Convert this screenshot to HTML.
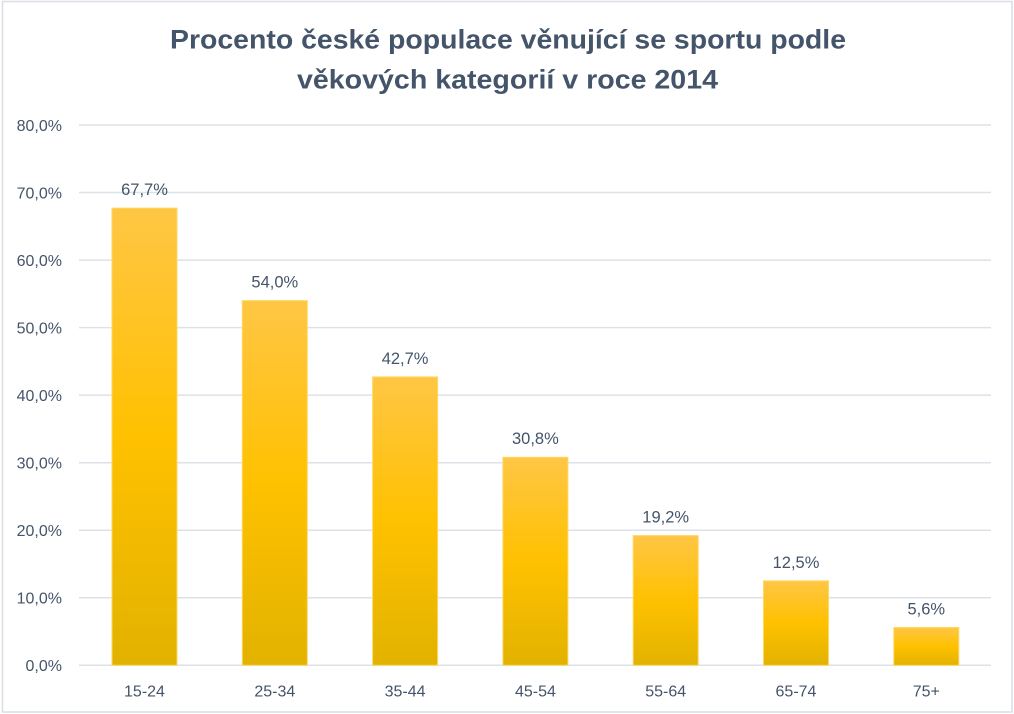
<!DOCTYPE html>
<html><head><meta charset="utf-8"><style>
html,body{margin:0;padding:0;background:#fff;}
svg{display:block;}
text{font-family:"Liberation Sans",sans-serif;fill:#44546a;}
</style></head><body>
<svg width="1014" height="714" viewBox="0 0 1014 714" xmlns="http://www.w3.org/2000/svg">
<defs>
<linearGradient id="g" x1="0" y1="0" x2="0" y2="1">
<stop offset="0" stop-color="#ffc645"/>
<stop offset="0.5" stop-color="#ffc100"/>
<stop offset="1" stop-color="#e2b200"/>
</linearGradient>
</defs>
<rect x="2.5" y="1.5" width="1009.5" height="710.5" fill="#fff" stroke="#d9dee6" stroke-width="1.5"/>
<text x="508" y="48.5" font-size="26.5" font-weight="bold" text-anchor="middle" textLength="676" lengthAdjust="spacingAndGlyphs">Procento české populace věnující se sportu podle</text>
<text x="507.5" y="88.5" font-size="26.5" font-weight="bold" text-anchor="middle" textLength="421" lengthAdjust="spacingAndGlyphs">věkových kategorií v roce 2014</text>
<g stroke="#dde1e8" stroke-width="1.5">
<line x1="79" x2="991" y1="125" y2="125"/>
<line x1="79" x2="991" y1="192.5" y2="192.5"/>
<line x1="79" x2="991" y1="260.1" y2="260.1"/>
<line x1="79" x2="991" y1="327.6" y2="327.6"/>
<line x1="79" x2="991" y1="395.1" y2="395.1"/>
<line x1="79" x2="991" y1="462.7" y2="462.7"/>
<line x1="79" x2="991" y1="530.2" y2="530.2"/>
<line x1="79" x2="991" y1="597.8" y2="597.8"/>
<line x1="79" x2="991" y1="665.3" y2="665.3"/>
</g>
<g font-size="16" text-anchor="end">
<text x="62" y="131">80,0%</text>
<text x="62" y="198.5">70,0%</text>
<text x="62" y="266">60,0%</text>
<text x="62" y="333.5">50,0%</text>
<text x="62" y="401">40,0%</text>
<text x="62" y="468.5">30,0%</text>
<text x="62" y="536">20,0%</text>
<text x="62" y="603.5">10,0%</text>
<text x="62" y="671">0,0%</text>
</g>
<g fill="url(#g)" stroke="#ffd765" stroke-width="1">
<rect x="112" y="208.1" width="65" height="457.2"/>
<rect x="242.3" y="300.6" width="65" height="364.7"/>
<rect x="372.6" y="376.9" width="65" height="288.4"/>
<rect x="502.9" y="457.3" width="65" height="208"/>
<rect x="633.2" y="535.6" width="65" height="129.7"/>
<rect x="763.5" y="580.9" width="65" height="84.4"/>
<rect x="893.8" y="627.5" width="65" height="37.8"/>
</g>
<g font-size="16.5" text-anchor="middle">
<text x="144.5" y="195">67,7%</text>
<text x="274.8" y="287.5">54,0%</text>
<text x="405.1" y="363.8">42,7%</text>
<text x="535.4" y="444.2">30,8%</text>
<text x="665.7" y="522.5">19,2%</text>
<text x="796" y="567.8">12,5%</text>
<text x="926.3" y="614.4">5,6%</text>
</g>
<g font-size="16" text-anchor="middle">
<text x="144.5" y="696.5">15-24</text>
<text x="274.8" y="696.5">25-34</text>
<text x="405.1" y="696.5">35-44</text>
<text x="535.4" y="696.5">45-54</text>
<text x="665.7" y="696.5">55-64</text>
<text x="796" y="696.5">65-74</text>
<text x="926.3" y="696.5">75+</text>
</g>
</svg>
</body></html>
